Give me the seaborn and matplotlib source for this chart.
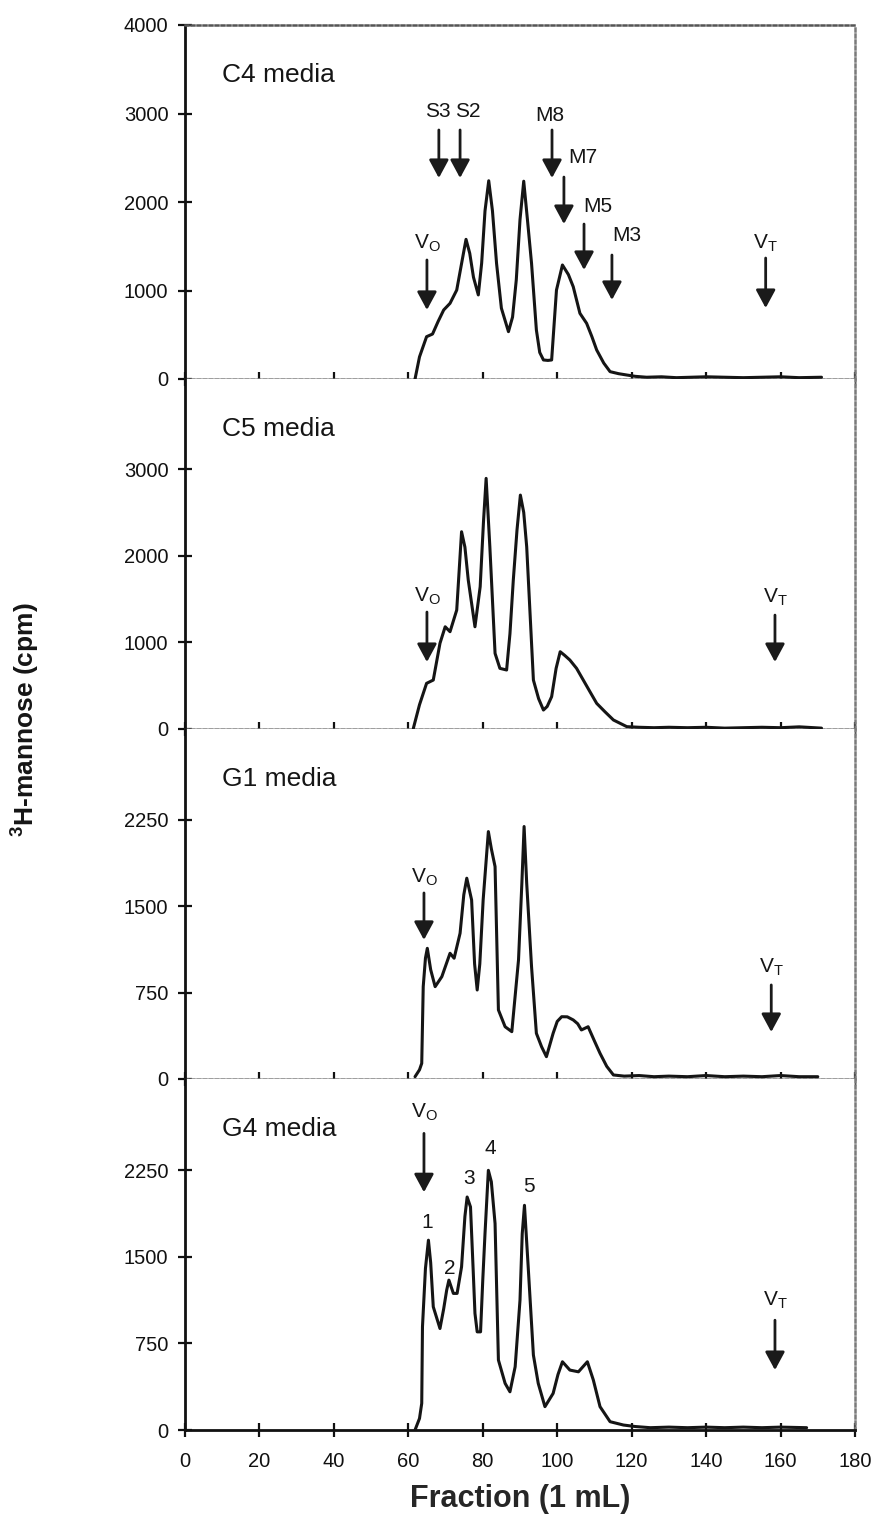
import numpy as np
import pandas as pd
import matplotlib
matplotlib.use("Agg")
import matplotlib.pyplot as plt
import seaborn as sns

# ---------------- data ----------------
panel_names = ["C4 media", "C5 media", "G1 media", "G4 media"]

c4_frac = [61.8, 63.0, 64.9, 66.5, 68.0, 69.5, 71.2, 73.0, 74.5, 75.5, 76.5, 77.5, 78.8, 79.7, 80.6,
           81.6, 82.6, 83.7, 85.0, 86.9, 88.0, 89.0, 90.0, 91.0, 92.0, 93.1, 94.4, 95.3, 96.3, 97.5,
           98.5, 99.8, 101.4, 103.0, 104.3, 106.1, 107.9, 109.3, 110.6, 112.5, 114.2, 116.5, 118.7,
           121, 124, 128, 132, 136, 140, 145, 150, 155, 160, 165, 171]
c4_cpm = [0, 250, 478, 508, 650, 780, 855, 1005, 1350, 1578, 1420, 1150, 950, 1310, 1900,
          2240, 1900, 1307, 800, 535, 700, 1119, 1800, 2235, 1800, 1307, 554, 300, 215, 210,
          215, 1005, 1288, 1180, 1043, 742, 629, 480, 328, 180, 83, 60, 45,
          30, 20, 25, 15, 20, 25, 20, 15, 20, 25, 15, 20]

c5_frac = [61.3, 63.0, 64.9, 66.7, 68.5, 69.9, 71.2, 73.0, 74.3, 75.2, 76.1, 77.0, 77.9, 79.3, 80.2,
           80.9, 81.9, 83.3, 84.6, 86.4, 87.3, 88.2, 89.2, 90.1, 91.0, 91.8, 93.6, 95.0, 96.3, 97.3,
           98.5, 99.7, 100.8, 102.0, 103.4, 105.2, 107.0, 108.8, 110.6, 112.8, 115.1, 118.7,
           122, 126, 130, 135, 140, 145, 150, 155, 160, 165, 171]
c5_cpm = [0, 280, 527, 565, 989, 1180, 1123, 1373, 2277, 2100, 1719, 1450, 1180, 1642, 2400,
          2893, 2103, 873, 700, 681, 1100, 1719, 2300, 2700, 2500, 2103, 565, 350, 219, 260,
          373, 700, 892, 850, 796, 700, 565, 430, 296, 200, 104, 27,
          20, 15, 20, 15, 20, 10, 15, 20, 15, 25, 10]

g1_frac = [61.8, 63.0, 63.6, 64.0, 64.6, 65.1, 66.0, 67.2, 69.0, 71.2, 72.3, 73.9, 74.9, 75.7, 77.0,
           77.8, 78.5, 79.2, 80.1, 81.5, 82.3, 83.3, 84.2, 86.0, 87.8, 89.6, 90.5, 91.1, 91.8, 93.1,
           94.4, 95.8, 97.1, 98.9, 100.0, 101.2, 102.7, 104.3, 105.5, 106.5, 108.3, 110.0, 111.5,
           113.3, 115.1, 118, 122, 126, 130, 135, 140, 145, 150, 155, 160, 165, 170]
g1_cpm = [20, 80, 136, 802, 1050, 1135, 950, 802, 889, 1092, 1049, 1266, 1600, 1744, 1555,
          1000, 773, 1000, 1555, 2149, 2000, 1845, 600, 454, 411, 1034, 1700, 2193, 1700, 976,
          397, 280, 194, 397, 500, 541, 540, 513, 480, 426, 454, 330, 223,
          110, 35, 25, 30, 20, 25, 20, 30, 20, 25, 20, 30, 20, 20]

g4_frac = [61.8, 63.0, 63.6, 63.8, 64.6, 65.4, 66.0, 66.7, 68.5, 69.5, 70.3, 70.9, 72.1, 73.1, 74.3,
           75.2, 75.8, 76.7, 77.4, 77.9, 78.5, 79.4, 80.0, 80.6, 81.5, 82.3, 83.3, 84.2, 86.0, 87.3,
           88.7, 90.0, 90.6, 91.2, 92.2, 93.6, 94.9, 96.7, 98.9, 100.2, 101.4, 103.4, 105.7, 108.1,
           109.7, 111.5, 114.2, 117.8, 121, 125, 130, 135, 140, 145, 150, 155, 160, 167]
g4_cpm = [0, 100, 231, 894, 1400, 1644, 1450, 1067, 879, 1050, 1211, 1298, 1183, 1183, 1413,
          1850, 2018, 1932, 1400, 1010, 850, 850, 1300, 1702, 2249, 2150, 1788, 606, 404, 331,
          548, 1125, 1700, 1946, 1413, 649, 404, 202, 317, 480, 591, 519, 504, 591,
          433, 202, 72, 43, 30, 20, 25, 20, 25, 20, 25, 20, 25, 20]

x_ticks = [0, 20, 40, 60, 80, 100, 120, 140, 160, 180]
y_ticks = [[0, 1000, 2000, 3000, 4000], [0, 1000, 2000, 3000],
           [0, 750, 1500, 2250], [0, 750, 1500, 2250]]
y_tops = [4000, 4040, 3040, 3040]

# arrow markers: (panel, x, y_tail, y_head, label, label_x, label_y)
markers = [
    (0, 65.0, 1345, 780, "V$_\\mathregular{O}$", 65.0, 1537),
    (0, 68.2, 2814, 2271, "S3", 67.8, 3017),
    (0, 73.9, 2814, 2271, "S2", 76.0, 3017),
    (0, 98.6, 2814, 2271, "M8", 98.0, 2983),
    (0, 101.8, 2282, 1751, "M7", 107.0, 2508),
    (0, 107.2, 1751, 1232, "M5", 111.0, 1944),
    (0, 114.7, 1401, 893, "M3", 118.7, 1627),
    (0, 156.0, 1367, 802, "V$_\\mathregular{T}$", 156.0, 1537),
    (1, 65.0, 1350, 773, "V$_\\mathregular{O}$", 65.0, 1535),
    (1, 158.5, 1315, 773, "V$_\\mathregular{T}$", 158.5, 1523),
    (2, 64.2, 1616, 1208, "V$_\\mathregular{O}$", 64.2, 1755),
    (2, 157.5, 817, 408, "V$_\\mathregular{T}$", 157.5, 973),
    (3, 64.2, 2569, 2059, "V$_\\mathregular{O}$", 64.2, 2751),
    (3, 158.5, 951, 519, "V$_\\mathregular{T}$", 158.5, 1125),
]
peak_labels = ["1", "2", "3", "4", "5"]
peak_x = [65.0, 71.0, 76.2, 82.0, 92.5]
peak_y = [1799, 1401, 2180, 2439, 2111]

# ---------------- style ----------------
sns.set_style("white")
plt.rcParams["font.family"] = ["Liberation Sans", "DejaVu Sans"]
plt.rcParams["mathtext.fontset"] = "custom"
plt.rcParams["mathtext.rm"] = "Liberation Sans"
plt.rcParams["mathtext.bf"] = "Liberation Sans:bold"

fig = plt.figure(figsize=(8.75, 15.2), dpi=100)
gs = fig.add_gridspec(4, 1, height_ratios=[354, 350, 350, 351],
                      left=185 / 875, right=855 / 875,
                      top=1 - 25 / 1520, bottom=1 - 1430 / 1520, hspace=0)

series = [(c4_frac, c4_cpm), (c5_frac, c5_cpm), (g1_frac, g1_cpm), (g4_frac, g4_cpm)]
axes = []
for i, (fr, cp) in enumerate(series):
    ax = fig.add_subplot(gs[i, 0])
    axes.append(ax)
    df = pd.DataFrame({"Fraction": fr, "cpm": cp})
    sns.lineplot(data=df, x="Fraction", y="cpm", ax=ax, color="#151515",
                 linewidth=2.2, sort=False, zorder=3)
    ax.set_xlim(0, 180)
    ax.set_ylim(0, y_tops[i])
    ax.set_xticks(x_ticks)
    ax.set_yticks(y_ticks[i])
    ax.set_xlabel("")
    ax.set_ylabel("")
    ax.tick_params(axis="both", direction="inout", length=10, width=1.6,
                   color="#111111", labelsize=14.5, labelcolor="#111111",
                   bottom=True, left=True, top=False, right=False)
    ax.tick_params(axis="y", pad=7)
    ax.tick_params(axis="x", pad=11)
    if i < 3:
        ax.tick_params(axis="x", labelbottom=False)
    # spines
    ax.spines["left"].set_color("#111111")
    ax.spines["left"].set_linewidth(2.0)
    ax.spines["right"].set_color("#7a7a7a")
    ax.spines["right"].set_linestyle((0, (1.2, 1.2)))
    ax.spines["right"].set_linewidth(1.8)
    if i == 0:
        ax.spines["top"].set_color("#555555")
        ax.spines["top"].set_linestyle((0, (1.2, 1.2)))
        ax.spines["top"].set_linewidth(1.8)
    else:
        ax.spines["top"].set_visible(False)
    if i < 3:
        ax.spines["bottom"].set_color("#808080")
        ax.spines["bottom"].set_linestyle((0, (1.2, 1.2)))
        ax.spines["bottom"].set_linewidth(1.8)
    else:
        ax.spines["bottom"].set_color("#111111")
        ax.spines["bottom"].set_linewidth(2.0)
    ax.text(0.055, 1 - 50 / 352, panel_names[i], transform=ax.transAxes,
            fontsize=19, va="center", ha="left", color="#151515")
    ax.set_facecolor("white")

for (p, x, yt, yh, lab, lx, ly) in markers:
    ax = axes[p]
    ax.annotate("", xy=(x, yh), xytext=(x, yt),
                arrowprops=dict(arrowstyle="-|>,head_length=0.5,head_width=0.27",
                                mutation_scale=22, lw=2.0, color="#1a1a1a",
                                shrinkA=0, shrinkB=0), zorder=4)
    ax.text(lx, ly, lab, fontsize=15, ha="center", va="center", color="#151515")

for lab, x, y in zip(peak_labels, peak_x, peak_y):
    axes[3].text(x, y, lab, fontsize=15, ha="center", va="center", color="#151515")

axes[3].set_xlabel("Fraction (1 mL)", fontsize=22, fontweight="bold", labelpad=9)
fig.text(26 / 875, 1 - 720 / 1520, r"$\mathbf{^{3}}$H-mannose (cpm)", rotation=90,
         fontsize=19, fontweight="bold", ha="center", va="center", color="#151515")

fig.savefig("out.png", dpi=100, facecolor="white")
